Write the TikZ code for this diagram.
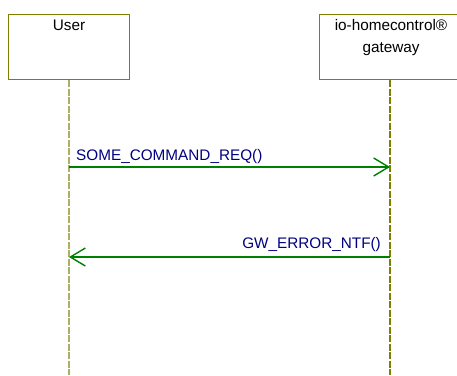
\documentclass[tikz,border=0pt]{standalone}
\usepackage{fontspec}
\setmainfont{Liberation Sans}
\usetikzlibrary{arrows.meta,positioning}
\definecolor{boxolive}{RGB}{128,128,0}
\definecolor{lifekhaki}{RGB}{175,175,100}
\definecolor{msggreen}{RGB}{0,128,0}
\definecolor{msgnavy}{RGB}{0,0,128}

\begin{document}
\begin{tikzpicture}[x=1pt,y=-1pt,
    actor/.style={draw=boxolive,line width=1pt,minimum width=121pt,minimum height=65pt,anchor=north,inner sep=0pt},
    actortext/.style={font=\fontsize{15.3}{21.5}\selectfont,align=center,anchor=north,inner sep=0pt},
    lifeline/.style={lifekhaki,line width=1.3pt,dash pattern=on 7pt off 1.5pt},
    msg/.style={msggreen,line width=1.4pt,-{Straight Barb[length=15pt,width=18pt]}},
    msglabel/.style={text=msgnavy,font=\fontsize{15.3}{18}\selectfont,inner sep=0pt}]
    \useasboundingbox (0,0) rectangle (457,375);
    \clip (0,0) rectangle (457,375);

    % actors
    \node[actor] (user) at (69,14) {};
    \node[actor,minimum width=142pt] (gw) at (390,14) {};
    \node[actortext] (usertext) at (69,19.5) {User};
    \node[actortext] (gwtext) at (391,19.5) {io-homecontrol®\\gateway};

    % lifelines
    \coordinate (userend) at (69,375);
    \coordinate (gwend) at (390,375);
    \draw[lifeline] (user.south) -- (userend);
    \draw[lifeline,boxolive] (gw.south) -- (gwend);

    % messages
    \coordinate (reqA) at (69,167);
    \coordinate (reqB) at (390,167);
    \coordinate (ntfA) at (390,257);
    \coordinate (ntfB) at (69,257);
    \draw[msg] (reqA) -- (reqB);
    \draw[msg] (ntfA) -- (ntfB);
    \node[msglabel,anchor=base west] (reqlbl) at (76,160) {SOME\_COMMAND\_REQ()};
    \node[msglabel,anchor=base east] (ntflbl) at (381,248) {GW\_ERROR\_NTF()};
\end{tikzpicture}
\end{document}
